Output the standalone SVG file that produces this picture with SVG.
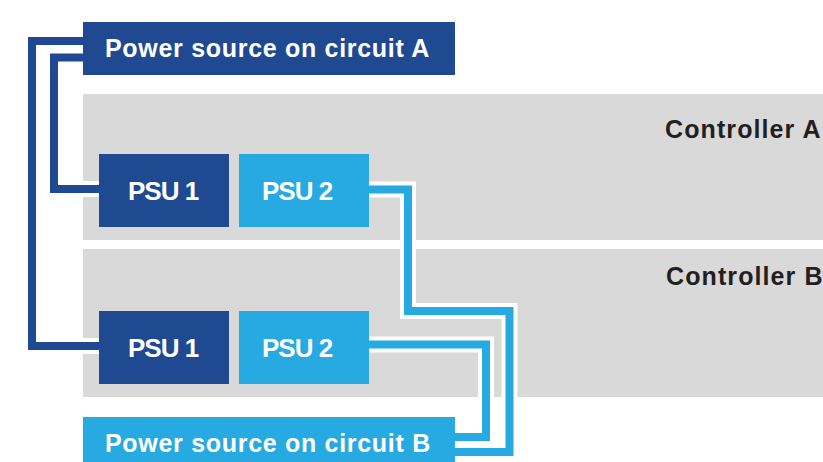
<svg xmlns="http://www.w3.org/2000/svg" width="823" height="462" viewBox="0 0 823 462">
<style>
.panel{fill:#d9d9d9}
.dark{fill:#1f4a91}
.light{fill:#27a9e1}
.lbl{font-family:"Liberation Sans",Arial,Helvetica,sans-serif;font-weight:bold;fill:#ffffff}
.src{font-size:25px;letter-spacing:0.7px}
.psu{font-size:26px;letter-spacing:-1px}
.ctl{font-family:"Liberation Sans",Arial,Helvetica,sans-serif;font-weight:bold;font-size:25px;letter-spacing:1.1px;fill:#231f20}
.casing{fill:none;stroke:#ffffff;stroke-width:16;stroke-linejoin:miter}
.wdark{fill:none;stroke:#1f4a91;stroke-width:8;stroke-linejoin:miter}
.wlight{fill:none;stroke:#27a9e1;stroke-width:8;stroke-linejoin:miter}
</style>
<rect width="823" height="462" fill="#ffffff"/>
<g id="controller-a">
<rect class="panel" x="83" y="94" width="740" height="146"/>
<text class="ctl" x="665" y="138">Controller A</text>
</g>
<g id="controller-b">
<rect class="panel" x="83" y="249" width="740" height="148"/>
<text class="ctl" x="666" y="285">Controller B</text>
</g>
<g id="connectors">
<polyline class="casing" points="83,41 32,41 32,346 99,346"/>
<polyline class="casing" points="83,57.5 54,57.5 54,189 99,189"/>
<polyline class="casing" points="369,189.5 408,189.5 408,311 509.5,311 509.5,452 455,452"/>
<polyline class="casing" points="369,344.5 486,344.5 486,437 455,437"/>
<polyline class="wdark" points="83,41 32,41 32,346 99,346"/>
<polyline class="wdark" points="83,57.5 54,57.5 54,189 99,189"/>
<polyline class="wlight" points="369,189.5 408,189.5 408,311 509.5,311 509.5,452 455,452"/>
<polyline class="wlight" points="369,344.5 486,344.5 486,437 455,437"/>
</g>
<g id="power-a">
<rect class="dark" x="83" y="22" width="372" height="53"/>
<text class="lbl src" x="105" y="57">Power source on circuit A</text>
</g>
<g id="psu1-a">
<rect class="dark" x="99" y="154" width="130" height="73"/>
<text class="lbl psu" x="128" y="199.5">PSU 1</text>
</g>
<g id="psu2-a">
<rect class="light" x="239" y="154" width="130" height="73"/>
<text class="lbl psu" x="262" y="199.5">PSU 2</text>
</g>
<g id="psu1-b">
<rect class="dark" x="99" y="311" width="130" height="73"/>
<text class="lbl psu" x="128" y="356.5">PSU 1</text>
</g>
<g id="psu2-b">
<rect class="light" x="239" y="311" width="130" height="73"/>
<text class="lbl psu" x="262" y="356.5">PSU 2</text>
</g>
<g id="power-b">
<rect class="light" x="83" y="417" width="372" height="53"/>
<text class="lbl src" x="105" y="452">Power source on circuit B</text>
</g>
</svg>
